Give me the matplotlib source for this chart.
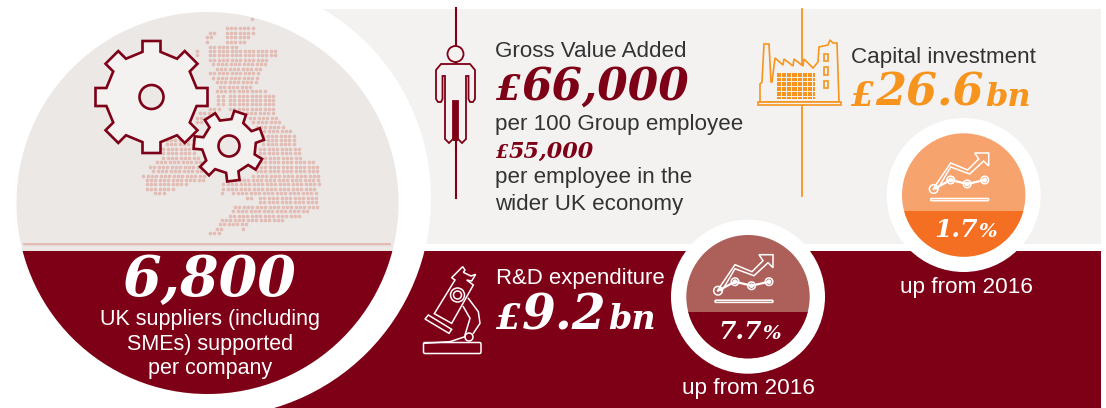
import numpy as np
import matplotlib
matplotlib.use('Agg')
import matplotlib.pyplot as plt
from matplotlib.patches import Circle, Rectangle, Polygon, FancyBboxPatch

# colours
red = '#7D0016'
orange = '#F7941E'
panel = '#F3F2F1'
disc = '#EBE8E6'
dot = '#E3BDB5'
ink = '#333333'

# text values
gva_title = 'Gross Value Added'
gva_value = '66,000'
gva_note = 'per 100 Group employee'
uk_value = '55,000'
uk_note = ['per employee in the', 'wider UK economy']
capex_title = 'Capital investment'
capex_value = '26.6'
capex_change = '1.7'
rd_title = 'R&D expenditure'
rd_value = '9.2'
rd_change = '7.7'
suppliers = '6,800'
suppliers_note = ['UK suppliers (including', 'SMEs) supported', 'per company']
change_note = 'up from 2016'

# dot map: row number -> runs of dots, in 1/3 px
map_rows = {
    58: [(757, 757)], 85: [(680, 770)], 98: [(630, 645), (680, 760)],
    112: [(620, 640), (680, 750)], 125: [(620, 620), (680, 735)], 140: [(630, 720)],
    153: [(590, 600), (630, 825)], 166: [(590, 600), (630, 825)], 180: [(630, 810)],
    193: [(640, 800)], 207: [(650, 790)], 220: [(630, 775)], 233: [(640, 775)],
    247: [(650, 775)], 260: [(660, 760)], 273: [(650, 680), (690, 800)],
    287: [(655, 670), (690, 820)], 300: [(655, 670), (690, 825)],
    313: [(655, 670), (690, 825)], 327: [(630, 660), (690, 825)],
    340: [(600, 640), (740, 830)], 353: [(590, 620), (750, 830)],
    367: [(590, 610), (760, 840)], 380: [(770, 860)], 393: [(780, 875)],
    407: [(790, 885)], 420: [(500, 580), (790, 885)], 433: [(500, 590), (790, 885)],
    447: [(490, 590), (780, 900)], 460: [(490, 590), (780, 900)],
    473: [(490, 600), (770, 910)], 487: [(470, 600), (770, 950)],
    500: [(450, 610), (770, 960)], 513: [(460, 610), (770, 960)],
    527: [(430, 620), (760, 960)], 540: [(440, 610), (680, 960)],
    553: [(440, 560), (670, 960)], 567: [(440, 520), (670, 950)],
    580: [(465, 495), (665, 670), (700, 950)], 593: [(740, 760), (780, 950)],
    607: [(780, 960)], 620: [(705, 960)], 633: [(700, 925)], 647: [(690, 910)],
    660: [(665, 850)], 673: [(660, 740)], 687: [(650, 670), (730, 730)],
    700: [(630, 660)],
}

fig = plt.figure(figsize=(11.06, 4.08), dpi=100)
ax = fig.add_axes([0, 0, 1, 1])
ax.set_xlim(0, 1106)
ax.set_ylim(408, 0)
ax.axis('off')


def gear(cx, cy, r_out, r_in, teeth, half_w, hole, rot):
    pts = []
    for i in range(teeth):
        a = rot + i * 2 * np.pi / teeth
        u = np.array([np.cos(a), np.sin(a)])
        v = np.array([-u[1], u[0]])
        root = np.sqrt(max(r_in ** 2 - half_w ** 2, 1))
        c = np.array([cx, cy])
        pts += [c + u * root - v * half_w, c + u * r_out - v * half_w,
                c + u * r_out + v * half_w, c + u * root + v * half_w]
    ax.add_patch(Polygon(pts, closed=True, fc=panel, ec=red, lw=1.9, joinstyle='miter', zorder=5))
    ax.add_patch(Circle((cx, cy), hole, fc=disc, ec=red, lw=1.9, zorder=6))


def trend_icon(cx, cy):
    # little chart with arrow, white outline on the top half of a circle
    lw = 1.1
    ax.add_patch(FancyBboxPatch((cx - 33, cy + 3.5), 58, 2.2, boxstyle='round,pad=0,rounding_size=1',
                                fc='none', ec='white', lw=lw, zorder=8))
    arrow = [(-30, -7), (-13, -32), (4, -25), (15, -36), (11, -42), (25, -42), (25, -29),
             (20, -34), (6, -21), (-13, -28), (-26, -6)]
    ax.add_patch(Polygon([(cx + x, cy + y) for x, y in arrow], closed=True, fc='none', ec='white', lw=lw, zorder=8))
    nodes = [(-30, -6), (-13, -15), (3.5, -11), (21, -15)]
    ax.plot([cx + n[0] for n in nodes], [cy + n[1] for n in nodes], color='white', lw=1.6, zorder=8)
    for i, (x, y) in enumerate(nodes):
        r = 4.3 if i == 0 else 3.8
        ax.add_patch(Circle((cx + x, cy + y), r, fc='none', ec='white', lw=lw, zorder=9))
        if i:
            ax.add_patch(Circle((cx + x, cy + y), 1.6, fc='none', ec='white', lw=lw, zorder=9))


def change_disc(cx, cy, light, dark):
    ax.add_patch(Circle((cx, cy), 77, fc='white', ec='none', zorder=6))
    c = Circle((cx, cy), 61.7, fc=light, ec='none', zorder=7)
    ax.add_patch(c)
    low = Rectangle((cx - 70, cy + 15.7), 140, 60, fc=dark, ec='none', zorder=7)
    ax.add_patch(low)
    low.set_clip_path(c)
    trend_icon(cx, cy)


def money(x, y, parts, color, zorder=10):
    # serif figures with a smaller pound sign and unit, laid out left to right
    r = fig.canvas.get_renderer()
    for s, size in parts:
        t = ax.text(x, y, s, fontsize=size, family='DejaVu Serif', weight='bold', style='italic',
                    color=color, va='baseline', ha='left', zorder=zorder)
        x = x + t.get_window_extent(r).width + size * 0.04


def label(x, y, s, size, color=ink, ha='left'):
    ax.text(x, y, s, fontsize=size, family='Liberation Sans', color=color, va='baseline', ha=ha, zorder=10)


# backgrounds
ax.add_patch(Rectangle((207, 9), 894, 234.5, fc=panel, ec='none', zorder=1))
ax.add_patch(Rectangle((207, 250.7), 894, 158, fc=red, ec='none', zorder=1))

# clipped heading above the picture
for x0, x1 in [(180, 188), (230, 238), (245, 254)]:
    ax.add_patch(Rectangle((x0, 0), x1 - x0, 1.6, fc='#C98E99', ec='none', zorder=1))

# big disc
ax.add_patch(Circle((212, 198), 219, fc='white', ec='none', zorder=2))
big = Circle((207.5, 203), 191, fc=disc, ec='none', zorder=3)
ax.add_patch(big)
low = Rectangle((0, 250.7), 420, 160, fc=red, ec='none', zorder=3)
ax.add_patch(low)
low.set_clip_path(big)
ax.add_patch(FancyBboxPatch((23, 243), 368, 2.4, boxstyle='round,pad=0,rounding_size=1', fc=dot, ec='none', zorder=4))

# dot map of the UK
dx, dy = [], []
for row, runs in map_rows.items():
    for a, b in runs:
        for zx in np.arange(a, b + 1, 13):
            dx.append(zx / 3)
            dy.append(row / 3)
ax.scatter(dx, dy, s=7, c=dot, linewidths=0, zorder=4)

gear(151.5, 97, 56, 46, 8, 9, 12, 0)
gear(229, 146, 35, 27, 7, 6.2, 10.5, np.radians(-20))

# person icon
ax.plot([455.5, 455.5], [8, 198], color=red, lw=1.5, zorder=4)
ax.add_patch(Circle((455.5, 54), 8, fc=panel, ec=red, lw=1.3, zorder=5))
body = [(441, 64), (470, 64), (475, 70), (475, 99), (473, 102), (470, 102), (468.5, 99), (468.5, 76), (466, 76),
        (466, 139), (462, 143), (458, 139), (458, 101), (453, 101), (453, 139), (449, 143), (445, 139),
        (445, 76), (442.5, 76), (442.5, 99), (441, 102), (438, 102), (436, 99), (436, 70)]
ax.add_patch(Polygon(body, closed=True, fc=panel, ec=red, lw=1.3, zorder=5))
ax.add_patch(Rectangle((453, 101), 5, 40, fc=red, ec='none', zorder=5))

# factory icon
ax.plot([801.5, 801.5], [9, 196], color=orange, lw=1.3, zorder=2)
outline = [(760, 102), (760, 84), (762, 82), (764, 44), (769, 44), (771, 82), (772, 82), (775, 58), (783, 65),
           (784, 59), (793, 66), (794, 59), (803, 66), (804, 59), (813, 68), (818, 62), (819, 47), (828, 45),
           (830, 40), (833, 43), (837, 43), (839, 102)]
ax.add_patch(Polygon(outline, closed=True, fc=panel, ec=orange, lw=1.2, zorder=3))
ax.add_patch(Rectangle((758, 102), 83, 3.2, fc=panel, ec=orange, lw=1.2, zorder=3))
ax.add_patch(Rectangle((776.5, 72.5), 38.5, 26, fc=orange, ec='none', zorder=4))
for gx in np.arange(781, 815, 5.2):
    ax.plot([gx, gx], [73, 98], color=panel, lw=0.7, zorder=5)
for gy in np.arange(76.5, 98, 4.8):
    ax.plot([777, 815], [gy, gy], color=panel, lw=0.7, zorder=5)
for wy in [53.5, 67, 80.5]:
    ax.add_patch(Rectangle((823.5, wy), 4.5, 7.5, fc='none', ec=orange, lw=1.2, zorder=4))

# change discs
change_disc(963.7, 195, '#F7A36E', '#F56F22')
change_disc(748, 296.7, '#AD6059', red)


# microscope icon
def mic(p):
    return [(410 + x / 3, 215 + y / 3) for x, y in p]


ms = dict(fc='none', ec='white', lw=1.1, zorder=5)
ax.add_patch(FancyBboxPatch((423.5, 342.5), 57.5, 11, boxstyle='round,pad=0,rounding_size=1.5', **ms))
ax.add_patch(Polygon(mic([(45, 312), (55, 300), (125, 343), (117, 355)]), closed=True, **ms))
ax.add_patch(Polygon(mic([(73, 296), (135, 195), (125, 188), (158, 155), (165, 165), (160, 172), (183, 183), (197, 178), (185, 198), (170, 195), (190, 210), (125, 325)]), closed=True, **ms))
ax.add_patch(Circle((457.5, 295), 7, **ms))
ax.add_patch(Circle((457.5, 295), 4, **ms))
ax.add_patch(Circle((469, 337), 4, **ms))
ax.plot(*zip(*mic([(175, 250), (205, 290), (210, 325), (190, 355)])), color='white', lw=1.1, zorder=5)
ax.plot(*zip(*mic([(160, 275), (180, 310), (165, 360)])), color='white', lw=1.1, zorder=5)
ax.plot(*zip(*mic([(42, 385), (120, 380), (165, 365)])), color='white', lw=1.1, zorder=5)

# text
label(495, 57, gva_title, 16.1)
money(496, 100, [('£', 26), (gva_value, 31.5)], red)
label(495, 130, gva_note, 16.1)
money(496, 158, [('£', 13), (uk_value, 16)], red)
label(495, 183, uk_note[0], 16.1)
label(495, 210, uk_note[1], 16.1)

label(851, 63, capex_title, 16.1)
money(851, 106, [('£', 24), (capex_value, 32), ('bn', 23)], orange)

label(496, 284, rd_title, 15.9, 'white')
money(496, 329, [('£', 26), (rd_value, 35), ('bn', 24)], 'white')

money(934, 237, [(capex_change, 18), ('%', 14)], 'white')
money(718, 339, [(rd_change, 18), ('%', 14)], 'white')
label(966, 293, change_note, 16.2, 'white', 'center')
label(748, 394, change_note, 16.2, 'white', 'center')

money(123, 296, [(suppliers, 40)], 'white')
for y, s in zip([325, 350, 374], suppliers_note):
    label(210, y, s, 15.5, 'white', 'center')

fig.savefig('out.png', dpi=100, facecolor='white')
